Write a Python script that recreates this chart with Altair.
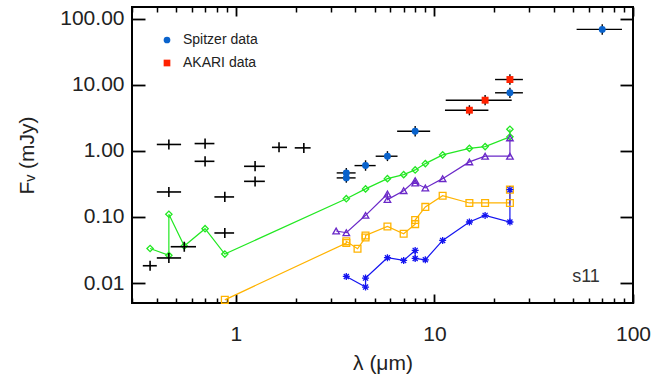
import altair as alt
import pandas as pd

FONT = "Liberation Sans"

# ---------------- optical / near-IR photometry (black crosses) ----------------
phot_wl = [0.37, 0.46, 0.46, 0.46, 0.55, 0.70, 0.70, 0.88, 0.88, 1.25, 1.25, 1.65, 2.2]
phot_wl_lo = [0.34, 0.40, 0.40, 0.40, 0.47, 0.62, 0.62, 0.78, 0.78, 1.10, 1.10, 1.52, 1.98]
phot_wl_hi = [0.40, 0.53, 0.53, 0.53, 0.63, 0.78, 0.78, 0.98, 0.98, 1.40, 1.40, 1.81, 2.38]
phot_flux = [0.0183, 1.25, 0.239, 0.024, 0.0355, 1.29, 0.695, 0.201, 0.0573, 0.584, 0.346, 1.13, 1.11]
phot_flux_lo = [0.0154, 1.05, 0.20, 0.0202, 0.0298, 1.08, 0.58, 0.169, 0.048, 0.49, 0.29, 0.95, 0.93]
phot_flux_hi = [0.0218, 1.49, 0.285, 0.0286, 0.0423, 1.54, 0.83, 0.24, 0.068, 0.70, 0.41, 1.35, 1.32]

# ---------------- Spitzer data ----------------
spitzer_wl = [3.6, 3.6, 4.5, 5.8, 8.0, 24.0, 70.0]
spitzer_wl_lo = [3.22, 3.22, 3.96, 5.06, 6.49, 20.2, 52.0]
spitzer_wl_hi = [4.01, 4.01, 5.06, 6.52, 9.52, 27.9, 88.0]
spitzer_flux = [0.464, 0.39, 0.599, 0.83, 1.98, 7.56, 68.8]
spitzer_flux_lo = [0.39, 0.33, 0.50, 0.70, 1.65, 6.3, 57.0]
spitzer_flux_hi = [0.55, 0.46, 0.72, 0.99, 2.37, 9.0, 82.0]

# ---------------- AKARI data ----------------
akari_wl = [15.0, 18.0, 24.0]
akari_wl_lo = [11.3, 11.4, 20.2]
akari_wl_hi = [18.7, 24.5, 27.9]
akari_flux = [4.12, 5.84, 12.0]
akari_flux_lo = [3.45, 4.9, 10.0]
akari_flux_hi = [4.9, 7.0, 14.4]

# ---------------- model curves ----------------
green_wl = [0.37, 0.46, 0.46, 0.55, 0.70, 0.88, 3.6, 4.5, 5.8, 7.0, 8.0, 9.0, 11.0, 15.0, 18.0, 24.0, 24.0]
green_flux = [0.0334, 0.0263, 0.110, 0.0364, 0.0665, 0.0275, 0.189, 0.266, 0.38, 0.437, 0.515, 0.642, 0.87, 1.09, 1.16, 1.63, 2.12]

purple_wl = [3.2, 3.6, 4.5, 5.8, 5.8, 7.0, 8.0, 8.0, 9.0, 11.0, 15.0, 18.0, 24.0, 24.0]
purple_flux = [0.0614, 0.0578, 0.106, 0.223, 0.183, 0.25, 0.355, 0.327, 0.275, 0.38, 0.681, 0.83, 0.83, 1.57]

orange_wl = [0.88, 3.6, 3.6, 4.1, 4.5, 4.5, 5.8, 7.0, 8.0, 8.0, 9.0, 11.0, 15.0, 18.0, 24.0, 24.0]
orange_flux = [0.00558, 0.0404, 0.0428, 0.0331, 0.049, 0.0526, 0.072, 0.0558, 0.078, 0.09, 0.142, 0.21, 0.163, 0.163, 0.163, 0.259]

blue_wl = [3.6, 4.5, 4.5, 5.8, 7.0, 8.0, 8.0, 9.0, 11.0, 15.0, 18.0, 24.0, 24.0]
blue_flux = [0.0126, 0.0087, 0.0119, 0.0242, 0.022, 0.0312, 0.0236, 0.0225, 0.0442, 0.084, 0.1057, 0.084, 0.259]

model_names = ["green", "purple", "orange", "blue"]
model_colors = ["#22E822", "#6A28C8", "#FFB300", "#1414F0"]
ASTERISK = "M-1,0L1,0M0,-1L0,1M-0.72,-0.72L0.72,0.72M-0.72,0.72L0.72,-0.72"
model_shapes = ["diamond", "triangle-up", "square", ASTERISK]
model_sizes = [40, 49, 36, 40]

# axis tick values / annotation
x_major = [1, 10, 100]
x_minor = [0.3, 0.4, 0.5, 0.6, 0.7, 0.8, 0.9, 2, 3, 4, 5, 6, 7, 8, 9,
           20, 30, 40, 50, 60, 70, 80, 90]
y_major = [0.01, 0.1, 1, 10, 100]
note_x = [58.0]
note_y = [0.0122]
note_text = ["s11"]

# ---------------- tables ----------------
phot = pd.DataFrame({"wl": phot_wl, "wl_lo": phot_wl_lo, "wl_hi": phot_wl_hi,
                     "flux": phot_flux, "flux_lo": phot_flux_lo, "flux_hi": phot_flux_hi})

obs = pd.concat([
    pd.DataFrame({"wl": spitzer_wl, "wl_lo": spitzer_wl_lo, "wl_hi": spitzer_wl_hi,
                  "flux": spitzer_flux, "flux_lo": spitzer_flux_lo, "flux_hi": spitzer_flux_hi,
                  "src": "Spitzer data"}),
    pd.DataFrame({"wl": akari_wl, "wl_lo": akari_wl_lo, "wl_hi": akari_wl_hi,
                  "flux": akari_flux, "flux_lo": akari_flux_lo, "flux_hi": akari_flux_hi,
                  "src": "AKARI data"}),
], ignore_index=True)

rows = []
for name, wls, fls in [("green", green_wl, green_flux), ("purple", purple_wl, purple_flux),
                       ("orange", orange_wl, orange_flux), ("blue", blue_wl, blue_flux)]:
    for i, (w, f) in enumerate(zip(wls, fls)):
        rows.append({"model": name, "i": i, "wl": w, "flux": f})
models = pd.DataFrame(rows)

note = pd.DataFrame({"x": note_x, "y": note_y, "label": note_text})

# ---------------- scales & axes ----------------
xscale = alt.Scale(type="log", domain=[0.3, 100], nice=False)
yscale = alt.Scale(type="log", domain=[0.005, 150], nice=False)

common = dict(domain=False, grid=False, tickColor="black", labelFlush=False, labelOverlap=False)

ax_xb_major = alt.Axis(orient="bottom", values=x_major, format="d", offset=-9, tickSize=9, tickWidth=1.8,
                       labelFont=FONT, labelFontSize=21, labelColor="#222222", labelPadding=20,
                       title="λ (μm)", titleFont=FONT, titleFontSize=21, titleFontWeight="normal",
                       titleColor="#222222", titlePadding=8, **common)
ax_xb_minor = alt.Axis(orient="bottom", values=x_minor, offset=-5, tickSize=5, tickWidth=1.5,
                       labels=False, title="", **common)
ax_xt_major = alt.Axis(orient="top", values=x_major, offset=-9, tickSize=9, tickWidth=1.8,
                       labels=False, title="", **common)
ax_xt_minor = alt.Axis(orient="top", values=x_minor, offset=-5, tickSize=5, tickWidth=1.5,
                       labels=False, title="", **common)
ax_yl = alt.Axis(orient="left", values=y_major, format=".2f", offset=-13, tickSize=13, tickWidth=1.8,
                 labelFont=FONT, labelFontSize=21, labelColor="#222222", labelPadding=8,
                 title="Fᵥ (mJy)", titleFont=FONT, titleFontSize=21, titleFontWeight="normal",
                 titleColor="#222222", titlePadding=22, **common)
ax_yr = alt.Axis(orient="right", values=y_major, offset=-13, tickSize=13, tickWidth=1.8,
                 labels=False, title="", **common)

mcolor = alt.Scale(domain=model_names, range=model_colors)
mshape = alt.Scale(domain=model_names, range=model_shapes)
msize = alt.Scale(domain=model_names, range=model_sizes)

lines = alt.Chart(models).mark_line(strokeWidth=1.2).encode(
    x=alt.X("wl:Q", scale=xscale, axis=ax_xb_major),
    y=alt.Y("flux:Q", scale=yscale, axis=ax_yl),
    color=alt.Color("model:N", scale=mcolor, legend=None),
    order=alt.Order("i:Q"),
)

points = alt.Chart(models).mark_point(filled=False, strokeWidth=1.3, opacity=1).encode(
    x=alt.X("wl:Q", scale=xscale, axis=ax_xb_minor),
    y=alt.Y("flux:Q", scale=yscale, axis=ax_yr),
    color=alt.Color("model:N", scale=mcolor, legend=None),
    shape=alt.Shape("model:N", scale=mshape, legend=None),
    size=alt.Size("model:N", scale=msize, legend=None),
)

phot_h = alt.Chart(phot).mark_rule(color="black", strokeWidth=1.6).encode(
    x=alt.X("wl_lo:Q", scale=xscale, axis=ax_xt_major),
    x2="wl_hi:Q",
    y=alt.Y("flux:Q", scale=yscale, axis=None),
)
phot_v = alt.Chart(phot).mark_rule(color="black", strokeWidth=1.6).encode(
    x=alt.X("wl:Q", scale=xscale, axis=ax_xt_minor),
    y=alt.Y("flux_lo:Q", scale=yscale, axis=None),
    y2="flux_hi:Q",
)

obs_h = alt.Chart(obs).mark_rule(color="black", strokeWidth=1.4).encode(
    x=alt.X("wl_lo:Q", scale=xscale, axis=None),
    x2="wl_hi:Q",
    y=alt.Y("flux:Q", scale=yscale, axis=None),
)
obs_v = alt.Chart(obs).mark_rule(color="black", strokeWidth=1.4).encode(
    x=alt.X("wl:Q", scale=xscale, axis=None),
    y=alt.Y("flux_lo:Q", scale=yscale, axis=None),
    y2="flux_hi:Q",
)

leg = alt.Legend(orient="none", legendX=28, legendY=26, title=None, labelFont=FONT,
                 labelFontSize=14, labelColor="#222222", symbolSize=45, rowPadding=9,
                 labelOffset=9, padding=0, symbolStrokeWidth=0)

obs_pts = alt.Chart(obs).mark_point(filled=True, opacity=1, size=48).encode(
    x=alt.X("wl:Q", scale=xscale, axis=None),
    y=alt.Y("flux:Q", scale=yscale, axis=None),
    color=alt.Color("src:N", scale=alt.Scale(domain=["Spitzer data", "AKARI data"],
                                             range=["#0A63CC", "#FF2200"]), legend=leg),
    shape=alt.Shape("src:N", scale=alt.Scale(domain=["Spitzer data", "AKARI data"],
                                             range=["circle", "square"]), legend=leg),
)

label = alt.Chart(note).mark_text(font=FONT, fontSize=18, color="#333333").encode(
    x=alt.X("x:Q", scale=xscale, axis=None),
    y=alt.Y("y:Q", scale=yscale, axis=None),
    text="label:N",
)

chart = alt.layer(lines, points, phot_h, phot_v, obs_h, obs_v, obs_pts, label).resolve_scale(
    color="independent", shape="independent", size="independent"
).resolve_axis(
    x="independent", y="independent"
).properties(
    width=501, height=296,
    autosize=alt.AutoSizeParams(type="none"),
    padding={"left": 132, "top": 7, "right": 35, "bottom": 78},
).configure(background="white").configure_view(stroke="black", strokeWidth=2)

chart.save("out.html", embed_options={"renderer": "svg", "actions": False})
